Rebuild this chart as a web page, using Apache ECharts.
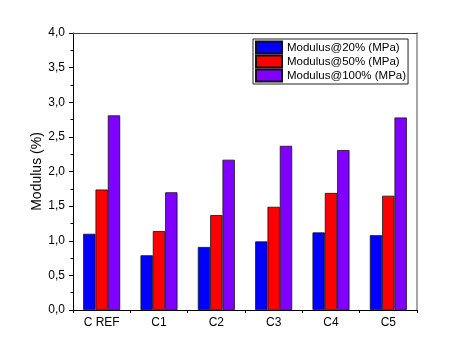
<!DOCTYPE html>
<html><head><meta charset="utf-8">
<script src="https://cdn.jsdelivr.net/npm/echarts@6/dist/echarts.min.js"></script>
<style>html,body{margin:0;padding:0;background:#fff}#c{width:449px;height:339px}</style>
</head><body><div id="c"></div>
<script>
const categories = ['C REF', 'C1', 'C2', 'C3', 'C4', 'C5'];
const mod20 = [1.10, 0.79, 0.91, 0.99, 1.12, 1.08];
const mod50 = [1.74, 1.14, 1.37, 1.49, 1.69, 1.65];
const mod100 = [2.81, 1.70, 2.17, 2.37, 2.31, 2.78];
const seriesNames = ['Modulus@20% (MPa)', 'Modulus@50% (MPa)', 'Modulus@100% (MPa)'];
const colors = ['#0000ff', '#ff0000', '#8000ff'];

const font = 'Liberation Sans, Arial, sans-serif';
const chart = echarts.init(document.getElementById('c'));
const mk = (name, data, color) => ({
  name, type: 'bar', data, xAxisIndex: 0, yAxisIndex: 0,
  barWidth: '21.5%', barGap: '0%',
  itemStyle: { color, borderColor: '#111', borderWidth: 0.8 },
  emphasis: { disabled: true }
});
chart.setOption({
  animation: false,
  grid: { left: 73, right: 32, top: 33, bottom: 29 },
  legend: {
    orient: 'vertical', left: 253, top: 39,
    itemWidth: 26, itemHeight: 12, itemGap: 0,
    padding: [1.5, 2, 1.5, 2],
    borderColor: '#222', borderWidth: 1, backgroundColor: '#fff',
    icon: 'rect',
    textStyle: { fontFamily: font, fontSize: 11.5, lineHeight: 12, height: 12, color: '#000', padding: 0 },
    data: seriesNames
  },
  xAxis: [
    { type: 'category', data: categories, position: 'bottom',
      axisLine: { lineStyle: { color: '#000', width: 1 } },
      axisTick: { alignWithLabel: true, length: 4, lineStyle: { color: '#000' } },
      axisLabel: { fontFamily: font, fontSize: 12, color: '#000', margin: 7 },
      splitLine: { show: false } },
    { type: 'category', data: categories, position: 'bottom', gridIndex: 0,
      axisLine: { show: false },
      axisTick: { show: true, length: 3, lineStyle: { color: '#000' } },
      axisLabel: { show: false }, splitLine: { show: false } },
    { type: 'category', data: categories, position: 'top', gridIndex: 0,
      axisLine: { lineStyle: { color: '#444', width: 1 } },
      axisTick: { show: false }, axisLabel: { show: false }, splitLine: { show: false } }
  ],
  yAxis: [
    { type: 'value', min: 0, max: 4, interval: 0.5,
      name: 'Modulus (%)', nameLocation: 'middle', nameGap: 36, nameMoveOverlap: false,
      nameTextStyle: { fontFamily: font, fontSize: 14, color: '#000', verticalAlign: 'middle' },
      axisLine: { show: true, lineStyle: { color: '#000', width: 1 } },
      axisTick: { show: true, length: 4, lineStyle: { color: '#000' } },
      minorTick: { show: true, splitNumber: 2, length: 2.5, lineStyle: { color: '#000' } },
      axisLabel: { fontFamily: font, fontSize: 12, color: '#000', margin: 8,
        formatter: v => v.toFixed(1).replace('.', ',') },
      splitLine: { show: false } },
    { type: 'value', min: 0, max: 4, position: 'right',
      axisLine: { show: true, lineStyle: { color: '#888', width: 1.5 } },
      axisTick: { show: false }, axisLabel: { show: false }, splitLine: { show: false } }
  ],
  series: [
    mk(seriesNames[0], mod20, colors[0]),
    mk(seriesNames[1], mod50, colors[1]),
    mk(seriesNames[2], mod100, colors[2])
  ]
});
</script></body></html>
